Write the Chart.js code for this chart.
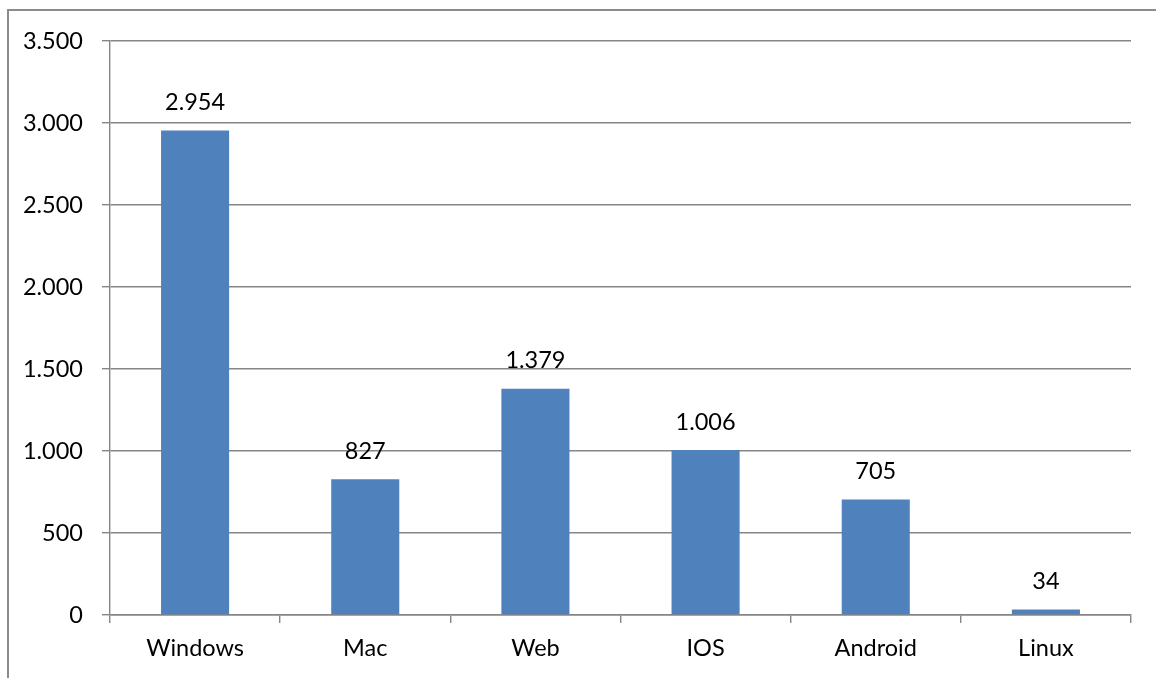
<!DOCTYPE html>
<html>
<head>
<meta charset="utf-8">
<script src="https://cdn.jsdelivr.net/npm/chart.js@4/dist/chart.umd.min.js"></script>
<style>
  html, body { margin: 0; padding: 0; background: #fff; }
  #wrap { position: relative; width: 1156px; height: 678px; }
  #frame {
    position: absolute; left: 7px; top: 9px; right: 0; bottom: 0;
    border-left: 2px solid #8c8c8c; border-top: 2px solid #8c8c8c;
    pointer-events: none;
  }
</style>
</head>
<body>
<div id="wrap">
  <canvas id="chart" width="1156" height="678"></canvas>
  <div id="frame"></div>
</div>
<script>
const categories = ['Windows', 'Mac', 'Web', 'IOS', 'Android', 'Linux']
const values = [2954, 827, 1379, 1006, 705, 34]
const yTicks = [0, 500, 1000, 1500, 2000, 2500, 3000, 3500]

const gridColor = '#868686'
const font = { family: 'Lato, Carlito, Calibri, sans-serif', size: 23.5 }

// thousands separator like the original (German style)
const fmt = (n) => String(n).replace(/\B(?=(\d{3})+(?!\d))/g, '.')

// draws the value above every bar
const valueLabels = {
  id: 'valueLabels',
  afterDatasetsDraw (chart) {
    const ctx = chart.ctx
    const meta = chart.getDatasetMeta(0)
    ctx.save()
    ctx.font = font.size + 'px ' + font.family
    ctx.fillStyle = '#000'
    ctx.textAlign = 'center'
    ctx.textBaseline = 'middle'
    meta.data.forEach((bar, i) => {
      ctx.fillText(fmt(values[i]), bar.x, bar.y - 28)
    })
    ctx.restore()
  }
}

const ctx = document.getElementById('chart').getContext('2d')
// eslint-disable-next-line
new Chart(ctx, {
  type: 'bar',
  data: {
    labels: categories,
    datasets: [{
      data: values,
      backgroundColor: '#4f81bd',
      categoryPercentage: 0.4,
      barPercentage: 1
    }]
  },
  options: {
    responsive: false,
    animation: false,
    layout: { padding: { top: 41, right: 25, left: 0, bottom: 0 } },
    plugins: {
      legend: { display: false },
      tooltip: { enabled: false }
    },
    scales: {
      x: {
        offset: true,
        grid: {
          offset: true,
          drawOnChartArea: false,
          drawTicks: true,
          tickLength: 8,
          color: gridColor,
          lineWidth: 1.4
        },
        border: { display: true, color: gridColor, width: 1.4 },
        ticks: { color: '#000', font, padding: 11 },
        afterFit (scale) { scale.height = 63 }
      },
      y: {
        min: 0,
        max: 3500,
        afterBuildTicks (scale) { scale.ticks = yTicks.map(v => ({ value: v })) },
        grid: { color: gridColor, drawTicks: true, tickLength: 8, lineWidth: 1.4 },
        border: { display: true, color: gridColor, width: 1.4 },
        ticks: { color: '#000', font, padding: 19, callback: (v) => fmt(v) },
        afterFit (scale) { scale.width = 110 }
      }
    }
  },
  plugins: [valueLabels]
})
</script>
</body>
</html>
